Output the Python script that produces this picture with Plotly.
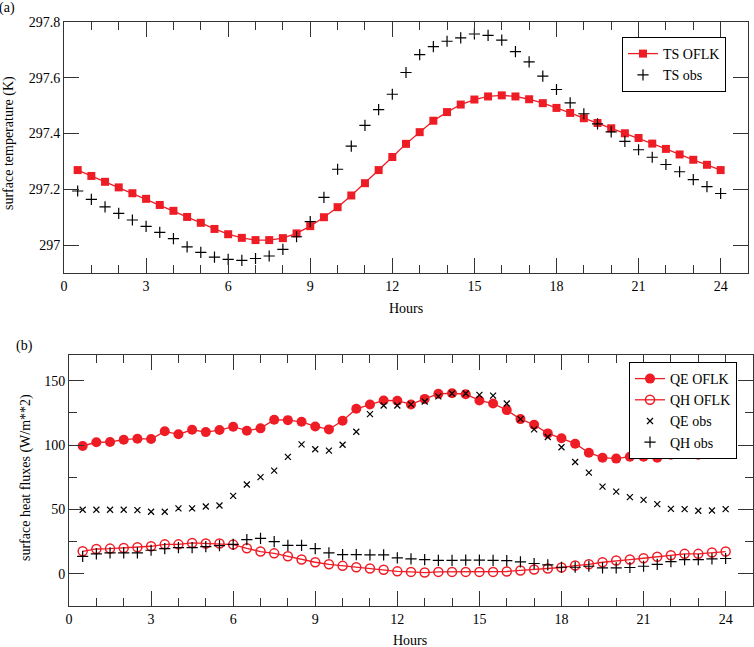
import plotly.graph_objects as go

hours = [0.5, 1.0, 1.5, 2.0, 2.5, 3.0, 3.5, 4.0, 4.5, 5.0, 5.5, 6.0,
         6.5, 7.0, 7.5, 8.0, 8.5, 9.0, 9.5, 10.0, 10.5, 11.0, 11.5, 12.0,
         12.5, 13.0, 13.5, 14.0, 14.5, 15.0, 15.5, 16.0, 16.5, 17.0, 17.5, 18.0,
         18.5, 19.0, 19.5, 20.0, 20.5, 21.0, 21.5, 22.0, 22.5, 23.0, 23.5, 24.0]

ts_oflk = [297.269, 297.248, 297.227, 297.207, 297.186, 297.166, 297.144, 297.123,
           297.101, 297.080, 297.058, 297.039, 297.026, 297.018, 297.018, 297.025,
           297.042, 297.068, 297.100, 297.136, 297.178, 297.222, 297.269, 297.316,
           297.363, 297.405, 297.446, 297.477, 297.504, 297.522, 297.533, 297.537,
           297.533, 297.523, 297.509, 297.492, 297.474, 297.455, 297.438, 297.419,
           297.401, 297.384, 297.364, 297.345, 297.325, 297.306, 297.288, 297.269]

ts_obs = [297.194, 297.164, 297.137, 297.114, 297.090, 297.067, 297.046, 297.023,
          296.994, 296.974, 296.957, 296.949, 296.945, 296.952, 296.961, 296.985,
          297.030, 297.084, 297.171, 297.272, 297.355, 297.429, 297.486, 297.541,
          297.619, 297.683, 297.712, 297.731, 297.743, 297.757, 297.752, 297.735,
          297.694, 297.657, 297.606, 297.558, 297.510, 297.471, 297.435, 297.406,
          297.372, 297.342, 297.315, 297.289, 297.263, 297.235, 297.210, 297.185]

qe_oflk = [99.3, 102.2, 102.4, 104.2, 105.0, 104.7, 110.7, 108.4, 111.9, 110.1, 111.7, 114.3,
           111.2, 113.0, 119.7, 119.4, 118.1, 114.5, 112.2, 118.9, 128.2, 131.6, 134.7, 134.5,
           131.6, 135.9, 139.8, 140.3, 139.5, 134.7, 132.3, 127.2, 120.2, 115.8, 109.1, 105.3,
           101.1, 94.1, 90.2, 89.5, 91.0, 91.0, 90.2, 92.6, 94.7, 92.6, 98.0, 98.8]

qh_oflk = [17.5, 19.3, 19.6, 20.1, 20.6, 21.4, 22.9, 22.9, 24.0, 23.5, 23.5, 22.7,
           19.8, 17.3, 15.9, 13.6, 11.1, 9.0, 7.4, 6.2, 5.1, 4.1, 3.1, 1.9,
           1.5, 1.0, 1.5, 1.5, 1.5, 1.5, 1.5, 1.8, 2.6, 3.3, 4.1, 4.9,
           6.4, 7.4, 9.0, 10.3, 11.1, 12.1, 13.2, 14.4, 15.5, 15.5, 16.5, 17.3]

qe_obs = [49.8, 49.8, 49.8, 49.8, 49.5, 48.2, 48.2, 50.8, 50.8, 52.3, 53.1, 60.6,
          69.4, 75.1, 80.2, 90.8, 100.6, 96.8, 95.7, 100.3, 110.4, 124.1, 130.8, 130.8,
          131.6, 133.9, 137.8, 140.1, 140.1, 139.0, 138.5, 132.3, 120.2, 112.2, 106.3, 98.3,
          86.9, 78.6, 67.8, 63.9, 59.6, 57.5, 54.2, 50.5, 50.3, 49.0, 49.2, 50.3]

qh_obs = [13.6, 15.5, 16.3, 16.3, 16.3, 18.3, 19.6, 20.4, 20.4, 21.1, 21.9, 22.9,
          26.5, 27.6, 25.0, 22.1, 22.1, 19.6, 16.3, 14.9, 14.9, 14.7, 14.7, 12.4,
          11.6, 11.1, 10.5, 10.5, 10.7, 10.7, 10.5, 10.3, 9.3, 8.0, 7.0, 5.1,
          5.1, 5.9, 4.6, 4.6, 4.9, 5.9, 7.4, 9.5, 11.1, 11.1, 11.6, 11.9]

RED = "#EE1C25"
FONT = "Liberation Serif"
AX = "#333333"

fig = go.Figure()

fig.add_trace(go.Scatter(x=hours, y=ts_oflk, name="TS OFLK", mode="lines+markers",
                         line=dict(color=RED, width=1.3),
                         marker=dict(symbol="square", size=8, color=RED),
                         xaxis="x", yaxis="y", legend="legend"))
fig.add_trace(go.Scatter(x=hours, y=ts_obs, name="TS obs", mode="markers",
                         marker=dict(symbol="cross-thin-open", size=8, color="black",
                                     line=dict(color="black", width=1.2)),
                         xaxis="x", yaxis="y", legend="legend"))

fig.add_trace(go.Scatter(x=hours, y=qe_oflk, name="QE OFLK", mode="lines+markers",
                         line=dict(color=RED, width=1.3),
                         marker=dict(symbol="circle", size=10, color=RED),
                         xaxis="x2", yaxis="y2", legend="legend2"))
fig.add_trace(go.Scatter(x=hours, y=qh_oflk, name="QH OFLK", mode="lines+markers",
                         line=dict(color=RED, width=1.3),
                         marker=dict(symbol="circle-open", size=9, color=RED,
                                     line=dict(color=RED, width=1.5)),
                         xaxis="x2", yaxis="y2", legend="legend2"))
fig.add_trace(go.Scatter(x=hours, y=qe_obs, name="QE obs", mode="markers",
                         marker=dict(symbol="x-thin-open", size=6, color="black",
                                     line=dict(color="black", width=1.2)),
                         xaxis="x2", yaxis="y2", legend="legend2"))
fig.add_trace(go.Scatter(x=hours, y=qh_obs, name="QH obs", mode="markers",
                         marker=dict(symbol="cross-thin-open", size=8, color="black",
                                     line=dict(color="black", width=1.2)),
                         xaxis="x2", yaxis="y2", legend="legend2"))

W, H = 754, 647

def px(x):
    return x / W

def py(y):
    return 1 - y / H

common_x = dict(range=[0, 25], dtick=3, tick0=0, ticks="inside", ticklen=15,
                tickwidth=1, tickcolor=AX, showline=True, linecolor=AX, linewidth=1,
                mirror="ticks", showgrid=False, zeroline=False, automargin=False,
                minor=dict(dtick=1, ticks="inside", ticklen=8, tickcolor=AX, showgrid=False),
                tickfont=dict(family=FONT, size=14, color="black"))

fig.update_layout(
    width=W, height=H, autosize=False,
    margin=dict(l=0, r=0, t=0, b=0, pad=0, autoexpand=False),
    paper_bgcolor="white", plot_bgcolor="white",
    font=dict(family=FONT, size=14, color="black"),
    xaxis=dict(domain=[px(64), px(748)], anchor="y", **common_x),
    yaxis=dict(domain=[py(273), py(22)], anchor="x", range=[296.9, 297.8],
               tickvals=[297, 297.2, 297.4, 297.6, 297.8],
               ticktext=["297", "297.2", "297.4", "297.6", "297.8"],
               ticks="inside", ticklen=15, tickcolor=AX, showline=True,
               linecolor=AX, linewidth=1, mirror="ticks", showgrid=False,
               zeroline=False, automargin=False,
               tickfont=dict(family=FONT, size=14, color="black")),
    xaxis2=dict(domain=[px(69), px(753)], anchor="y2", **common_x),
    yaxis2=dict(domain=[py(606), py(355)], anchor="x2", range=[-25, 170],
                dtick=50, tick0=0, ticks="inside", ticklen=15, tickcolor=AX,
                showline=True, linecolor=AX, linewidth=1, mirror="ticks",
                showgrid=False, zeroline=False, automargin=False,
                minor=dict(dtick=25, ticks="inside", ticklen=8, tickcolor=AX, showgrid=False),
                tickfont=dict(family=FONT, size=14, color="black")),
    legend=dict(x=px(726), y=py(37), xanchor="right", yanchor="top",
                bordercolor="black", borderwidth=1, bgcolor="white",
                font=dict(family=FONT, size=14), tracegroupgap=0),
    legend2=dict(x=px(737), y=py(362), xanchor="right", yanchor="top",
                 bordercolor="black", borderwidth=1, bgcolor="white",
                 font=dict(family=FONT, size=14), tracegroupgap=0),
    showlegend=True,
)

annos = [
    dict(text="(a)", x=px(7), y=py(8)),
    dict(text="(b)", x=px(24), y=py(346)),
    dict(text="Hours", x=px(406), y=py(308)),
    dict(text="Hours", x=px(410), y=py(640)),
    dict(text="surface temperature (K)", x=px(9), y=py(143), textangle=-90),
    dict(text="surface heat fluxes (W/m**2)", x=px(26), y=py(478), textangle=-90),
]
for a in annos:
    fig.add_annotation(xref="paper", yref="paper", showarrow=False,
                       xanchor="center", yanchor="middle",
                       font=dict(family=FONT, size=14, color="black"), **a)

fig.write_html("out.html", config={"displayModeBar": False},
               post_script="document.body.style.margin='0';document.body.style.overflow='hidden';")
